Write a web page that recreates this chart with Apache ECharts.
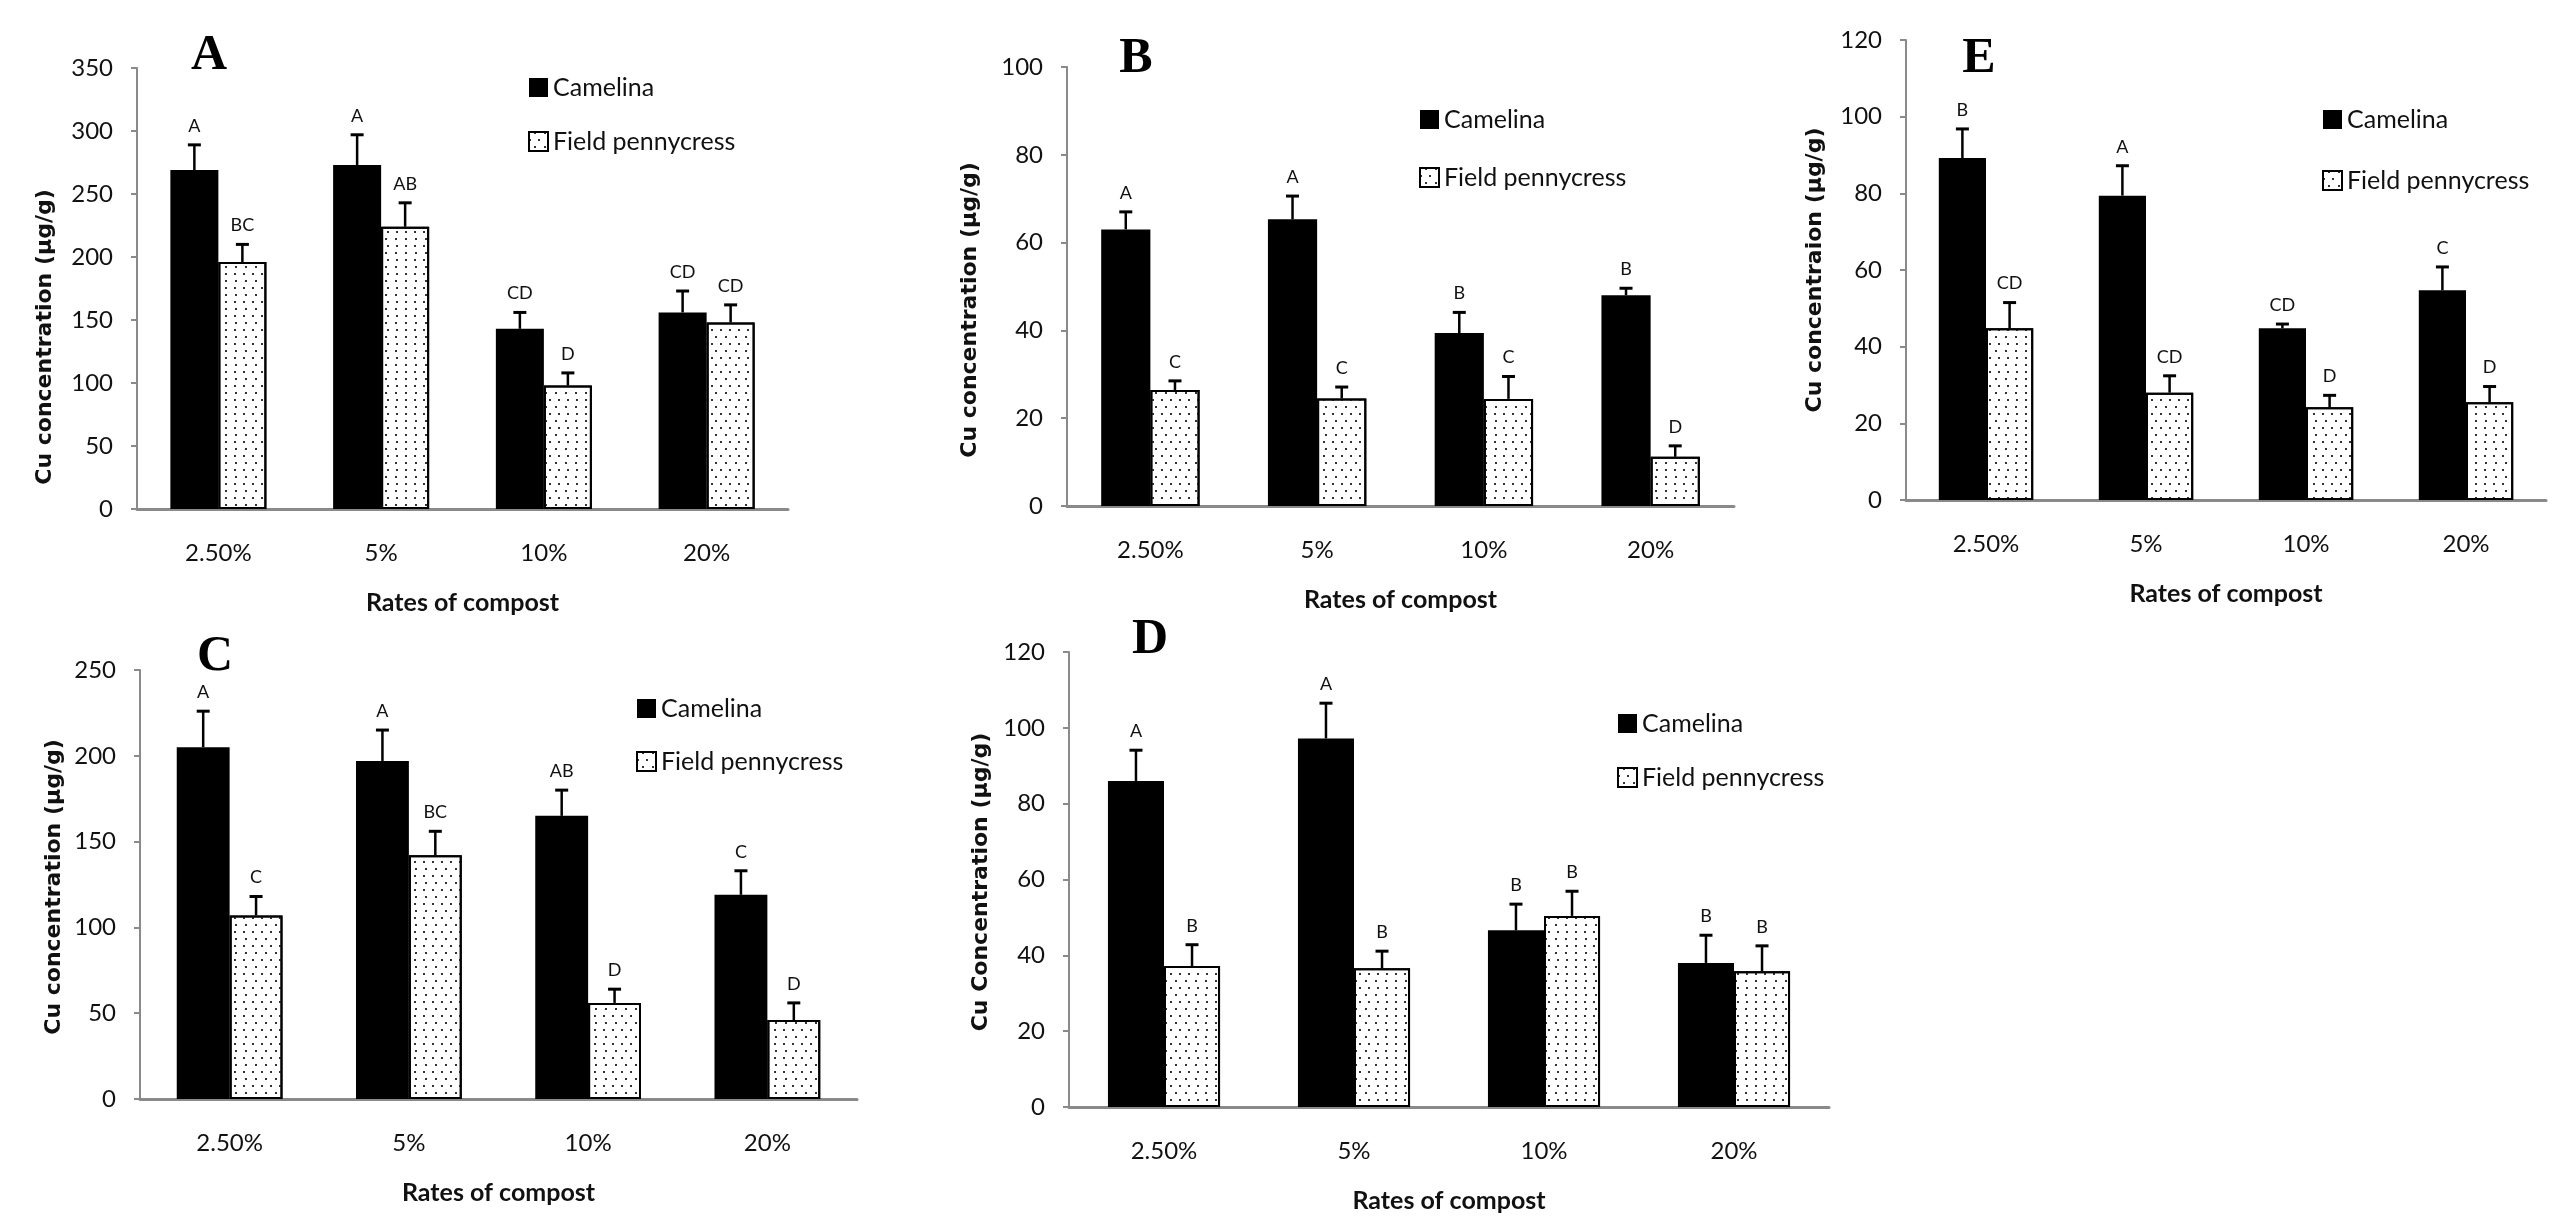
<!DOCTYPE html>
<html>
<head>
<meta charset="utf-8">
<script src="https://cdn.jsdelivr.net/npm/echarts@6/dist/echarts.min.js"></script>
<style>
html, body { margin: 0; padding: 0; background: #fff; }
#main { width: 2567px; height: 1230px; }
</style>
</head>
<body>
<div id="main"></div>
<script>
var rates = ['2.50%', '5%', '10%', '20%'];

// panel A
var camA = [269, 273, 143, 156];
var camAErr = [20, 24, 13, 17];
var camALet = ['A', 'A', 'CD', 'CD'];
var penA = [196, 224, 98, 148];
var penAErr = [14, 19, 10, 14];
var penALet = ['BC', 'AB', 'D', 'CD'];

// panel B
var camB = [63, 65.3, 39.4, 48];
var camBErr = [4, 5.3, 4.7, 1.6];
var camBLet = ['A', 'A', 'B', 'B'];
var penB = [26.4, 24.5, 24.4, 11.2];
var penBErr = [2.1, 2.6, 5.1, 2.5];
var penBLet = ['C', 'C', 'C', 'D'];

// panel C
var camC = [205, 197, 165, 119];
var camCErr = [21, 18, 15, 14];
var camCLet = ['A', 'A', 'AB', 'C'];
var penC = [107, 142, 56, 46];
var penCErr = [11, 14, 8, 10];
var penCLet = ['C', 'BC', 'D', 'D'];

// panel D
var camD = [86, 97.2, 46.6, 38];
var camDErr = [8.1, 9.3, 6.9, 7.3];
var camDLet = ['A', 'A', 'B', 'B'];
var penD = [37.2, 36.6, 50.4, 35.8];
var penDErr = [5.6, 4.5, 6.5, 6.7];
var penDLet = ['B', 'B', 'B', 'B'];

// panel E
var camE = [89.2, 79.4, 44.8, 54.7];
var camEErr = [7.6, 7.8, 1.1, 6.1];
var camELet = ['B', 'A', 'CD', 'C'];
var penE = [44.8, 28, 24.2, 25.5];
var penEErr = [6.7, 4.4, 3.1, 4.1];
var penELet = ['CD', 'CD', 'D', 'D'];

var panels = [
  { tag: 'A', cam: camA, camErr: camAErr, camLet: camALet, pen: penA, penErr: penAErr, penLet: penALet,
    max: 350, step: 50, ytitle: 'Cu concentration (\u00b5g/g)',
    grid: [137, 68, 651, 441], legend: [523, 70, 29], tagPos: [209, 56], titlePos: [45, 337] },
  { tag: 'B', cam: camB, camErr: camBErr, camLet: camBLet, pen: penB, penErr: penBErr, penLet: penBLet,
    max: 100, step: 20, ytitle: 'Cu concentration (\u00b5g/g)',
    grid: [1067, 67, 667, 439], legend: [1414, 102, 33], tagPos: [1136, 59], titlePos: [970, 310] },
  { tag: 'E', cam: camE, camErr: camEErr, camLet: camELet, pen: penE, penErr: penEErr, penLet: penELet,
    max: 120, step: 20, ytitle: 'Cu concentraion (\u00b5g/g)',
    grid: [1906, 40, 640, 460], legend: [2317, 102, 36], tagPos: [1979, 59], titlePos: [1815, 270] },
  { tag: 'C', cam: camC, camErr: camCErr, camLet: camCLet, pen: penC, penErr: penCErr, penLet: penCLet,
    max: 250, step: 50, ytitle: 'Cu concentration (\u00b5g/g)',
    grid: [140, 670, 717, 429], legend: [631, 691, 28], tagPos: [215, 657], titlePos: [54, 887] },
  { tag: 'D', cam: camD, camErr: camDErr, camLet: camDLet, pen: penD, penErr: penDErr, penLet: penDLet,
    max: 120, step: 20, ytitle: 'Cu Concentration (\u00b5g/g)',
    grid: [1069, 652, 760, 455], legend: [1612, 706, 29], tagPos: [1150, 640], titlePos: [981, 882] }
];

var axisGray = '#8a8a8a';
var dots = {
  symbol: 'rect', symbolSize: 1, color: '#333',
  dashArrayX: [[1.8, 7], [0, 4.4, 1.8, 2.6]], dashArrayY: [1.8, 4.4], rotation: 0
};

function errBars(letters, shift) {
  return function (params, api) {
    var ci = api.value(0), v = api.value(1), e = api.value(2);
    var band = api.size([1, 0])[0];
    var x = api.coord([ci, v])[0] + shift * band;
    var y0 = api.coord([ci, v])[1];
    var y1 = api.coord([ci, v + e])[1];
    return {
      type: 'group',
      children: [
        { type: 'line', shape: { x1: x, y1: y0, x2: x, y2: y1 }, style: { stroke: '#000', lineWidth: 2.5 } },
        { type: 'line', shape: { x1: x - 6.5, y1: y1, x2: x + 6.5, y2: y1 }, style: { stroke: '#000', lineWidth: 3 } },
        { type: 'text', x: x, y: y1 - 10,
          style: { text: letters[params.dataIndex], align: 'center', verticalAlign: 'bottom',
                   textAlign: 'center', textVerticalAlign: 'bottom',
                   fill: '#111', fontSize: 18, fontFamily: 'Lato' } }
      ]
    };
  };
}

function errData(vals, errs) {
  return vals.map(function (v, i) { return [i, v, errs[i]]; });
}

var grids = [], xAxes = [], yAxes = [], series = [], legends = [], graphics = [];

panels.forEach(function (p, i) {
  grids.push({ left: p.grid[0], top: p.grid[1], width: p.grid[2], height: p.grid[3] });
  xAxes.push({
    type: 'category', gridIndex: i, data: rates,
    axisLine: { lineStyle: { color: axisGray, width: 3 } },
    axisTick: { length: 11, lineStyle: { color: axisGray, width: 2 } },
    axisLabel: { margin: 32, fontSize: 24, color: '#111', fontFamily: 'Lato' },
    name: 'Rates of compost', nameLocation: 'middle', nameGap: 81,
    nameTextStyle: { fontSize: 25, fontWeight: 'bold', color: '#111', fontFamily: 'Lato' }
  });
  yAxes.push({
    type: 'value', gridIndex: i, min: 0, max: p.max, interval: p.step,
    splitLine: { show: false },
    axisLine: { show: true, lineStyle: { color: axisGray, width: 2 } },
    axisTick: { show: true, length: 6, lineStyle: { color: axisGray, width: 2 } },
    axisLabel: { margin: 24, fontSize: 24, color: '#111', fontFamily: 'Lato' }
  });
  series.push({
    name: 'Camelina', type: 'bar', xAxisIndex: i, yAxisIndex: i, data: p.cam,
    barGap: '0%', barCategoryGap: '41%',
    itemStyle: { color: '#000' }
  });
  series.push({
    name: 'Field pennycress', type: 'bar', xAxisIndex: i, yAxisIndex: i, data: p.pen,
    barGap: '0%', barCategoryGap: '41%',
    itemStyle: { color: '#fff', borderColor: '#000', borderWidth: 2, decal: dots }
  });
  series.push({
    type: 'custom', xAxisIndex: i, yAxisIndex: i, z: 5,
    data: errData(p.cam, p.camErr), renderItem: errBars(p.camLet, -0.1475)
  });
  series.push({
    type: 'custom', xAxisIndex: i, yAxisIndex: i, z: 5,
    data: errData(p.pen, p.penErr), renderItem: errBars(p.penLet, 0.1475)
  });
  legends.push({
    orient: 'vertical', left: p.legend[0], top: p.legend[1], itemGap: p.legend[2],
    itemWidth: 19, itemHeight: 19, icon: 'rect',
    data: ['Camelina', 'Field pennycress'],
    textStyle: { fontSize: 25, color: '#111', fontFamily: 'Lato', padding: [0, 0, 0, 0] },
    selectedMode: false
  });
  graphics.push({
    type: 'text', x: p.tagPos[0], y: p.tagPos[1],
    style: { text: p.tag, align: 'center', verticalAlign: 'middle', textAlign: 'center', textVerticalAlign: 'middle',
             fill: '#000', fontSize: 50, fontWeight: 'bold', fontFamily: 'Liberation Serif' }
  });
  graphics.push({
    type: 'text', x: p.titlePos[0], y: p.titlePos[1], rotation: Math.PI / 2,
    style: { text: p.ytitle, align: 'center', verticalAlign: 'middle', textAlign: 'center', textVerticalAlign: 'middle',
             fill: '#111', fontSize: 22, fontWeight: 'bold', fontFamily: 'DejaVu Sans' }
  });
});

var chart = echarts.init(document.getElementById('main'));
chart.setOption({
  animation: false,
  backgroundColor: '#fff',
  grid: grids,
  xAxis: xAxes,
  yAxis: yAxes,
  legend: legends,
  series: series,
  graphic: graphics
});
</script>
</body>
</html>
